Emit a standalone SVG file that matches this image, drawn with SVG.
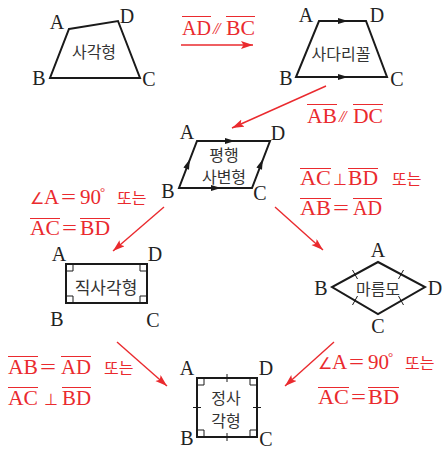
<svg xmlns="http://www.w3.org/2000/svg" width="443" height="453" viewBox="0 0 443 453">
<style>
.sh{fill:none;stroke:#1a1a1a;stroke-width:2;stroke-linejoin:miter}
.thin{fill:none;stroke:#1a1a1a;stroke-width:1}
.lb{font-family:'Liberation Serif','Times New Roman',serif;font-size:20px;fill:#222;text-anchor:middle}
.ko{font-family:'Noto Sans CJK KR','Noto Sans',sans-serif;font-size:16px;fill:#333;text-anchor:middle}
.rt{font-family:'Liberation Serif','Times New Roman',serif;font-size:21px;fill:#ea2a2e}
.rk{font-family:'Noto Sans CJK KR','Noto Sans',sans-serif;font-size:16px;fill:#ea2a2e}
.par{font-family:'Liberation Serif','Times New Roman',serif;font-style:italic;font-size:17px;fill:#ea2a2e;letter-spacing:-2px}
.ol{fill:none;stroke:#ea2a2e;stroke-width:1}
.ra{fill:none;stroke:#ea2a2e;stroke-width:1.4;marker-end:url(#rh)}
.ah{fill:#1a1a1a}
</style>
<defs>
<marker id="rh" markerUnits="userSpaceOnUse" markerWidth="13" markerHeight="9" refX="12" refY="4" orient="auto">
<path d="M0,0 L12,4 L0,8 L2.5,4 z" fill="#ea2a2e"/>
</marker>
<path id="ah" d="M-5,-3 L5,0 L-5,3 z"/>
</defs>

<g id="quad">
<path class="sh" d="M69,29 L118,21 L140,78 L50,78 Z"/>
<text class="lb" x="57" y="29">A</text>
<text class="lb" x="127" y="23">D</text>
<text class="lb" x="39" y="85">B</text>
<text class="lb" x="149" y="86">C</text>
<text class="ko" x="94" y="58">사각형</text>
</g>

<g id="trapezoid">
<path class="sh" d="M319,21 L366,21 L387,77 L296,77 Z"/>
<use href="#ah" class="ah" transform="translate(343,21)"/>
<use href="#ah" class="ah" transform="translate(343,77)"/>
<text class="lb" x="306" y="22">A</text>
<text class="lb" x="377" y="22">D</text>
<text class="lb" x="286" y="85">B</text>
<text class="lb" x="397" y="86">C</text>
<text class="ko" x="341" y="60">사다리꼴</text>
</g>

<g id="parallelogram">
<path class="sh" d="M197,141 L270,141 L252,188 L179,188 Z"/>
<use href="#ah" class="ah" transform="translate(230,141)"/>
<use href="#ah" class="ah" transform="translate(216,188)"/>
<use href="#ah" class="ah" transform="translate(188,164) rotate(-69)"/>
<use href="#ah" class="ah" transform="translate(261,164) rotate(-69)"/>
<text class="lb" x="187" y="139">A</text>
<text class="lb" x="278" y="140">D</text>
<text class="lb" x="168" y="198">B</text>
<text class="lb" x="260" y="200">C</text>
<text class="ko" x="224" y="161">평행</text>
<text class="ko" x="224" y="183">사변형</text>
</g>

<g id="rectangle">
<rect class="sh" x="66" y="264" width="81" height="39"/>
<path class="thin" d="M66,271 H73 V264 M140,264 V271 H147 M66,296 H73 V303 M140,303 V296 H147"/>
<text class="lb" x="59" y="261">A</text>
<text class="lb" x="155" y="261">D</text>
<text class="lb" x="57" y="326">B</text>
<text class="lb" x="153" y="327">C</text>
<text class="ko" x="106" y="294" style="font-size:17px">직사각형</text>
</g>

<g id="rhombus">
<path class="sh" d="M378,262 L425,287 L378,314 L332,287 Z"/>
<path class="thin" d="M352.5,270 L357.5,279 M398.5,279 L403.5,270 M352.5,305 L357.5,296 M398.5,296 L403.5,305"/>
<text class="lb" x="378" y="257">A</text>
<text class="lb" x="321" y="295">B</text>
<text class="lb" x="435" y="295">D</text>
<text class="lb" x="378" y="333">C</text>
<text class="ko" x="378" y="295">마름모</text>
</g>

<g id="square">
<rect class="sh" x="197" y="378" width="60" height="59"/>
<path class="thin" d="M197,385 H204 V378 M250,378 V385 H257 M197,430 H204 V437 M250,437 V430 H257"/>
<path class="thin" d="M227,374 V382 M227,433 V441 M193,407.5 H201 M253,407.5 H261"/>
<text class="lb" x="187" y="375">A</text>
<text class="lb" x="266" y="375">D</text>
<text class="lb" x="187" y="445">B</text>
<text class="lb" x="266" y="446">C</text>
<text class="ko" x="226" y="404">정사</text>
<text class="ko" x="226" y="427">각형</text>
</g>

<g id="connectors">
<line class="ra" x1="181" y1="45" x2="253" y2="45"/>
<line class="ra" x1="326" y1="86" x2="232" y2="128"/>
<line class="ra" x1="164" y1="207" x2="113" y2="251"/>
<line class="ra" x1="275" y1="207" x2="323" y2="250"/>
<line class="ra" x1="117" y1="342" x2="167" y2="386"/>
<line class="ra" x1="334" y1="342" x2="285" y2="386"/>
</g>

<g id="labels">
<text class="rt" x="182" y="35" textLength="29" lengthAdjust="spacingAndGlyphs">AD</text>
<text class="par" x="213" y="34">//</text>
<text class="rt" x="226" y="35" textLength="29" lengthAdjust="spacingAndGlyphs">BC</text>
<path class="ol" d="M182,16.5 H211 M226,16.5 H255"/>

<text class="rt" x="307" y="123" textLength="30" lengthAdjust="spacingAndGlyphs">AB</text>
<text class="par" x="339" y="122">//</text>
<text class="rt" x="353" y="123" textLength="30" lengthAdjust="spacingAndGlyphs">DC</text>
<path class="ol" d="M307,104.5 H337 M353,104.5 H383"/>

<text class="rt" x="300" y="185" textLength="31" lengthAdjust="spacingAndGlyphs">AC</text>
<text class="rt" x="333" y="185" style="font-size:16px">⊥</text>
<text class="rt" x="348" y="185" textLength="30" lengthAdjust="spacingAndGlyphs">BD</text>
<text class="rk" x="392" y="185">또는</text>
<path class="ol" d="M300,168.5 H331 M348,168.5 H378"/>
<text class="rt" x="300" y="215" textLength="31" lengthAdjust="spacingAndGlyphs">AB</text>
<text class="rt" x="333" y="215" textLength="16" lengthAdjust="spacingAndGlyphs">=</text>
<text class="rt" x="353" y="215" textLength="29" lengthAdjust="spacingAndGlyphs">AD</text>
<path class="ol" d="M300,198.5 H331 M353,198.5 H382"/>

<text class="rt" x="30" y="204"><tspan style="font-size:16px">∠</tspan>A</text>
<text class="rt" x="61" y="204" textLength="15" lengthAdjust="spacingAndGlyphs">=</text>
<text class="rt" x="80" y="204">90</text>
<text class="rt" x="100" y="196" style="font-size:13px">°</text>
<text class="rk" x="117" y="204">또는</text>
<text class="rt" x="30" y="235" textLength="30" lengthAdjust="spacingAndGlyphs">AC</text>
<text class="rt" x="62" y="235" textLength="15" lengthAdjust="spacingAndGlyphs">=</text>
<text class="rt" x="80" y="235" textLength="30" lengthAdjust="spacingAndGlyphs">BD</text>
<path class="ol" d="M30,218.5 H60 M80,218.5 H110"/>

<text class="rt" x="8" y="374" textLength="30" lengthAdjust="spacingAndGlyphs">AB</text>
<text class="rt" x="40" y="374" textLength="16" lengthAdjust="spacingAndGlyphs">=</text>
<text class="rt" x="61" y="374" textLength="30" lengthAdjust="spacingAndGlyphs">AD</text>
<text class="rk" x="104" y="374">또는</text>
<path class="ol" d="M8,356.5 H38 M61,356.5 H91"/>
<text class="rt" x="8" y="405" textLength="30" lengthAdjust="spacingAndGlyphs">AC</text>
<text class="rt" x="44" y="405" style="font-size:16px">⊥</text>
<text class="rt" x="62" y="405" textLength="29" lengthAdjust="spacingAndGlyphs">BD</text>
<path class="ol" d="M8,387.5 H38 M62,387.5 H91"/>

<text class="rt" x="318" y="369"><tspan style="font-size:16px">∠</tspan>A</text>
<text class="rt" x="349" y="369" textLength="15" lengthAdjust="spacingAndGlyphs">=</text>
<text class="rt" x="368" y="369">90</text>
<text class="rt" x="388" y="361" style="font-size:13px">°</text>
<text class="rk" x="405" y="369">또는</text>
<text class="rt" x="318" y="404" textLength="31" lengthAdjust="spacingAndGlyphs">AC</text>
<text class="rt" x="351" y="404" textLength="15" lengthAdjust="spacingAndGlyphs">=</text>
<text class="rt" x="368" y="404" textLength="31" lengthAdjust="spacingAndGlyphs">BD</text>
<path class="ol" d="M318,387.5 H349 M368,387.5 H399"/>
</g>
</svg>
